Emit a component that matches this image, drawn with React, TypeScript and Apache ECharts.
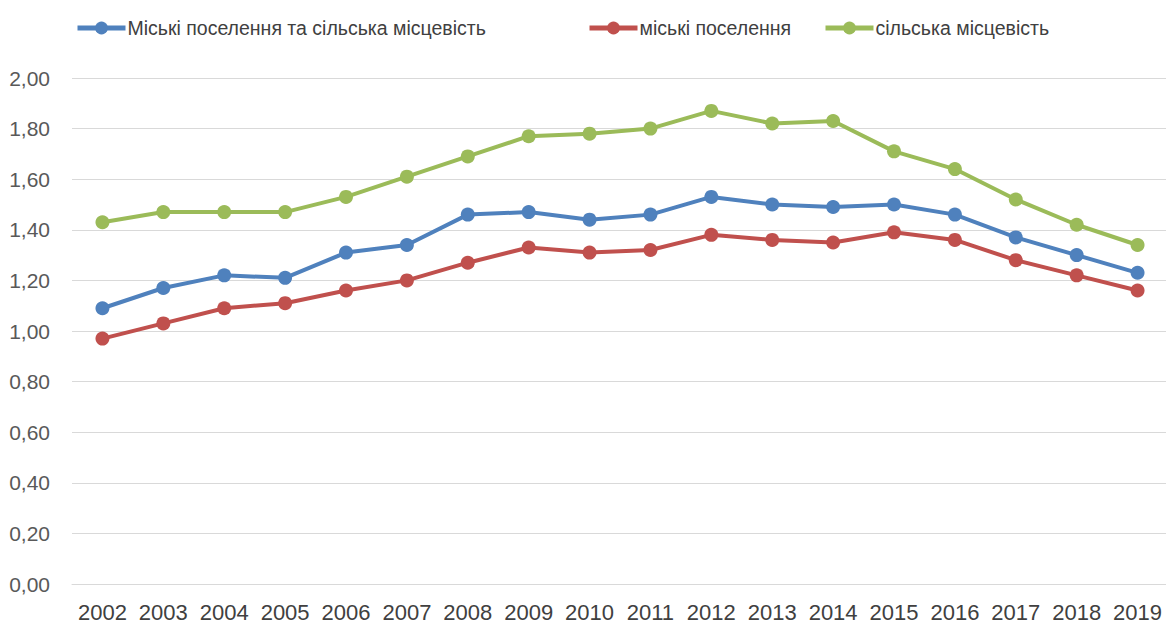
import React, { useEffect, useRef } from "react";
import * as echarts from "echarts";

const years = ["2002","2003","2004","2005","2006","2007","2008","2009","2010","2011","2012","2013","2014","2015","2016","2017","2018","2019"];
const total = [1.09,1.17,1.22,1.21,1.31,1.34,1.46,1.47,1.44,1.46,1.53,1.50,1.49,1.50,1.46,1.37,1.30,1.23];
const urban = [0.97,1.03,1.09,1.11,1.16,1.20,1.27,1.33,1.31,1.32,1.38,1.36,1.35,1.39,1.36,1.28,1.22,1.16];
const rural = [1.43,1.47,1.47,1.47,1.53,1.61,1.69,1.77,1.78,1.80,1.87,1.82,1.83,1.71,1.64,1.52,1.42,1.34];
const names = ["Міські поселення та сільська місцевість", "міські поселення", "сільська місцевість"];
const colors = ["#4F81BD", "#C0504D", "#9BBB59"];

const FONT = "'Liberation Sans', Arial, sans-serif";

export default function App() {
  const ref = useRef<HTMLDivElement>(null);
  useEffect(() => {
    document.body.style.margin = "0";
    const chart = echarts.init(ref.current!, null, { renderer: "svg" });
    const mk = (i: number, data: number[]) => ({
      name: names[i],
      type: "line",
      data,
      symbol: "circle",
      symbolSize: 14,
      lineStyle: { width: 4, color: colors[i] },
      itemStyle: { color: colors[i] },
    });
    const legendBase = {
      top: 13,
      itemWidth: 48,
      itemHeight: 16,
      itemGap: 4,
      lineStyle: { width: 5 },
      textStyle: { fontFamily: FONT, fontSize: 19.5, color: "#404040", padding: [0, 0, 0, -3] },
    };
    chart.setOption({
      animation: false,
      backgroundColor: "#ffffff",
      legend: [
        { ...legendBase, left: 70, data: [names[0]] },
        { ...legendBase, left: 582, data: [names[1]] },
        { ...legendBase, left: 818, data: [names[2]] },
      ],
      grid: { left: 72, right: -2, top: 78, bottom: 43, containLabel: false, outerBoundsMode: "none" },
      xAxis: {
        type: "category",
        data: years,
        boundaryGap: true,
        axisLine: { show: true, lineStyle: { color: "#D9D9D9", width: 1 } },
        axisTick: { show: false },
        axisLabel: { fontFamily: FONT, fontSize: 22, color: "#404040", margin: 17, interval: 0 },
      },
      yAxis: {
        type: "value",
        min: 0,
        max: 2,
        interval: 0.2,
        axisLine: { show: false },
        axisTick: { show: false },
        splitLine: { lineStyle: { color: "#D9D9D9", width: 1 } },
        axisLabel: {
          fontFamily: FONT,
          fontSize: 21,
          color: "#595959",
          margin: 22,
          formatter: (v: number) => v.toFixed(2).replace(".", ","),
        },
      },
      series: [mk(0, total), mk(1, urban), mk(2, rural)],
    });
    return () => chart.dispose();
  }, []);
  return <div ref={ref} style={{ width: 1166, height: 627 }} />;
}
